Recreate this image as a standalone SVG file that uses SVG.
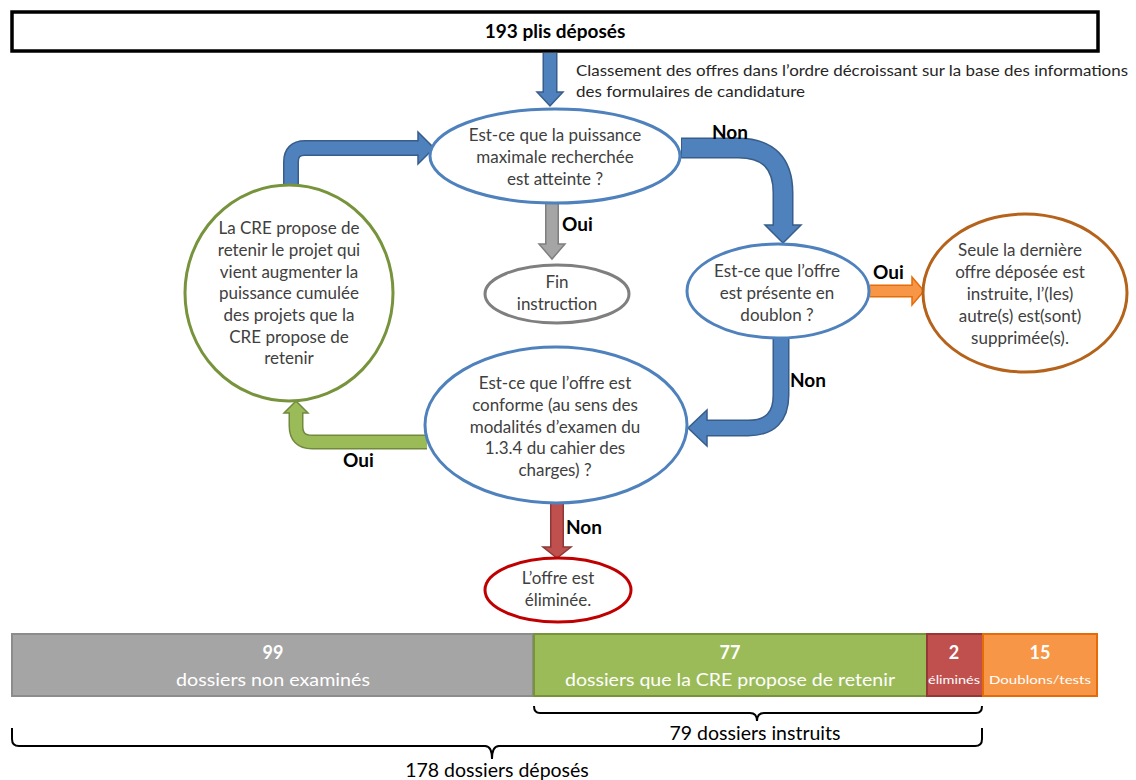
<svg xmlns="http://www.w3.org/2000/svg" width="1136" height="780" viewBox="0 0 1136 780">
<style>
  .t { font-family: Lato, "Open Sans", "Liberation Sans", sans-serif; font-size: 17px; fill: #404040; text-anchor: middle; }
  .lbl { font-family: Lato, "Open Sans", "Liberation Sans", sans-serif; font-size: 19px; font-weight: bold; fill: #000; }
  .note { font-family: Lato, "Open Sans", "Liberation Sans", sans-serif; font-size: 16px; fill: #262626; }
  .w { font-family: Lato, "Open Sans", "Liberation Sans", sans-serif; fill: #fff; text-anchor: middle; }
  .wb { font-weight: bold; font-size: 18px; }
  .node { fill: #fff; stroke-width: 3; }
  .blue { stroke: #4f81bd; }
  .sh { fill: none; stroke-linecap: butt; stroke-linejoin: round; }
  .brace { fill: none; stroke: #000; stroke-width: 2; }
  .btxt { font-family: Lato, "Open Sans", "Liberation Sans", sans-serif; font-size: 19.5px; fill: #000; text-anchor: middle; }
</style>

<g id="top">
  <rect x="12" y="12" width="1086" height="39" fill="#fff" stroke="#000" stroke-width="3.5"/>
  <text x="555" y="38" text-anchor="middle" style="font-family: Lato, 'Open Sans', 'Liberation Sans', sans-serif; font-size:19px; font-weight:bold; fill:#000">193 plis déposés</text>
</g>

<g id="connectors">
  <path class="sh" d="M550 53 V92" stroke="#385d8a" stroke-width="15"/>
  <path class="sh" d="M550 53 V93" stroke="#4f81bd" stroke-width="12"/>
  <path d="M544 92 H537 L550 106 L563 92 H556" fill="#4f81bd" stroke="#385d8a" stroke-width="1.5"/>
  <text class="note" x="576" y="76" textLength="552" lengthAdjust="spacingAndGlyphs">Classement des offres dans l’ordre décroissant sur la base des informations</text>
  <text class="note" x="576" y="97" textLength="229" lengthAdjust="spacingAndGlyphs">des formulaires de candidature</text>

  <path class="sh" d="M552 204 V244" stroke="#7f7f7f" stroke-width="14"/>
  <path class="sh" d="M552 204 V245" stroke="#a5a5a5" stroke-width="11"/>
  <path d="M546.5 244 H539 L552 259 L565 244 H557.5" fill="#a5a5a5" stroke="#7f7f7f" stroke-width="1.5"/>
  <text class="lbl" x="562" y="231">Oui</text>

  <path class="sh" d="M291 187 V162 Q291 148 305 148 H418" stroke="#385d8a" stroke-width="16"/>
  <path class="sh" d="M291 188 V162 Q291 148 305 148 H419" stroke="#4f81bd" stroke-width="13"/>
  <path d="M418 141.5 V132 L434 148 L418 164 V154.5" fill="#4f81bd" stroke="#385d8a" stroke-width="1.5"/>

  <path class="sh" d="M681 148 H738 Q783 148 783 193 V225" stroke="#385d8a" stroke-width="21"/>
  <path class="sh" d="M682 148 H738 Q783 148 783 193 V226" stroke="#4f81bd" stroke-width="18"/>
  <path d="M774 225 H765 L783 243 L801 225 H792" fill="#4f81bd" stroke="#385d8a" stroke-width="1.5"/>
  <text class="lbl" x="712" y="139">Non</text>

  <path class="sh" d="M870 291 H912" stroke="#e46c0a" stroke-width="13"/>
  <path class="sh" d="M870 291 H913" stroke="#f79646" stroke-width="10"/>
  <path d="M912 286 V277 L924 291 L912 305 V296" fill="#f79646" stroke="#e46c0a" stroke-width="1.5"/>
  <text class="lbl" x="873" y="279">Oui</text>

  <path class="sh" d="M781 337 V395 Q781 428 748 428 H707" stroke="#385d8a" stroke-width="17"/>
  <path class="sh" d="M781 338 V395 Q781 428 748 428 H706" stroke="#4f81bd" stroke-width="14"/>
  <path d="M707 421 V410 L688 428 L707 446 V435" fill="#4f81bd" stroke="#385d8a" stroke-width="1.5"/>
  <text class="lbl" x="790" y="387">Non</text>

  <path class="sh" d="M427 442 H312 Q296 442 296 426 V413" stroke="#71893f" stroke-width="15"/>
  <path class="sh" d="M427 442 H312 Q296 442 296 426 V412" stroke="#9bbb59" stroke-width="12"/>
  <path d="M290 413 H284 L296 401 L308 413 H302" fill="#9bbb59" stroke="#71893f" stroke-width="1.5"/>
  <text class="lbl" x="343" y="467">Oui</text>

  <path class="sh" d="M557 503 V547" stroke="#8c3836" stroke-width="14"/>
  <path class="sh" d="M557 503 V548" stroke="#c0504d" stroke-width="11"/>
  <path d="M551.5 547 H543 L557 558 L571 547 H562.5" fill="#c0504d" stroke="#8c3836" stroke-width="1.5"/>
  <text class="lbl" x="566" y="534">Non</text>
</g>

<g id="q-puissance">
  <ellipse class="node blue" cx="555" cy="156" rx="125" ry="47"/>
  <text class="t" x="555" y="141">Est-ce que la puissance</text>
  <text class="t" x="555" y="163">maximale recherchée</text>
  <text class="t" x="555" y="185">est atteinte ?</text>
</g>

<g id="fin">
  <ellipse class="node" stroke="#7f7f7f" cx="557" cy="294" rx="72" ry="29"/>
  <text class="t" x="557" y="288">Fin</text>
  <text class="t" x="557" y="310">instruction</text>
</g>

<g id="retenir">
  <ellipse class="node" stroke="#77933c" cx="289" cy="293" rx="104" ry="108"/>
  <text class="t" x="289" y="234">La CRE propose de</text>
  <text class="t" x="289" y="256">retenir le projet qui</text>
  <text class="t" x="289" y="278">vient augmenter la</text>
  <text class="t" x="289" y="299">puissance cumulée</text>
  <text class="t" x="289" y="321">des projets que la</text>
  <text class="t" x="289" y="343">CRE propose de</text>
  <text class="t" x="289" y="364">retenir</text>
</g>

<g id="q-doublon">
  <ellipse class="node blue" cx="778" cy="291" rx="91" ry="47"/>
  <text class="t" x="777" y="277">Est-ce que l’offre</text>
  <text class="t" x="777" y="299">est présente en</text>
  <text class="t" x="777" y="321">doublon ?</text>
</g>

<g id="derniere">
  <ellipse class="node" stroke="#b5621b" cx="1025" cy="293" rx="102" ry="79"/>
  <text class="t" x="1020" y="256">Seule la dernière</text>
  <text class="t" x="1020" y="278">offre déposée est</text>
  <text class="t" x="1020" y="300">instruite, l’(les)</text>
  <text class="t" x="1020" y="322">autre(s) est(sont)</text>
  <text class="t" x="1020" y="344">supprimée(s).</text>
</g>

<g id="q-conforme">
  <ellipse class="node blue" cx="556" cy="425" rx="131" ry="78"/>
  <text class="t" x="555" y="389">Est-ce que l’offre est</text>
  <text class="t" x="555" y="411">conforme (au sens des</text>
  <text class="t" x="555" y="433">modalités d’examen du</text>
  <text class="t" x="555" y="454">1.3.4 du cahier des</text>
  <text class="t" x="555" y="476">charges) ?</text>
</g>

<g id="eliminee">
  <ellipse class="node" stroke="#c00000" cx="558" cy="590" rx="73" ry="32"/>
  <text class="t" x="558" y="584">L’offre est</text>
  <text class="t" x="558" y="606">éliminée.</text>
</g>

<g id="bar">
  <rect x="12" y="634" width="521" height="62" fill="#a5a5a5" stroke="#8c8c8c" stroke-width="2"/>
  <rect x="534" y="634" width="393" height="62" fill="#9bbb59" stroke="#77933c" stroke-width="2"/>
  <rect x="927" y="634" width="56" height="62" fill="#c0504d" stroke="#953735" stroke-width="2"/>
  <rect x="983" y="634" width="114" height="62" fill="#f79646" stroke="#e36c09" stroke-width="2"/>
  <text class="w wb" x="273" y="659">99</text>
  <text class="w" x="273" y="686" style="font-size:18px" textLength="194" lengthAdjust="spacingAndGlyphs">dossiers non examinés</text>
  <text class="w wb" x="730" y="659">77</text>
  <text class="w" x="730" y="686" style="font-size:18px" textLength="330" lengthAdjust="spacingAndGlyphs">dossiers que la CRE propose de retenir</text>
  <text class="w wb" x="954" y="659">2</text>
  <text class="w" x="954" y="684" style="font-size:11px" textLength="52" lengthAdjust="spacingAndGlyphs">éliminés</text>
  <text class="w wb" x="1040" y="659">15</text>
  <text class="w" x="1040" y="684" style="font-size:12px" textLength="102" lengthAdjust="spacingAndGlyphs">Doublons/tests</text>
</g>

<g id="brace-instruits">
  <path class="brace" d="M534 706 Q534 713 540 713 H750 Q757 713 757 721 Q757 713 764 713 H976 Q982 713 982 706"/>
  <text class="btxt" x="755" y="740">79 dossiers instruits</text>
</g>

<g id="brace-deposes">
  <path class="brace" d="M12 728 V739 Q12 746 19 746 H485 Q492 746 492 759 Q492 746 499 746 H975 Q982 746 982 739 V728"/>
  <text class="btxt" x="497" y="777">178 dossiers déposés</text>
</g>
</svg>
